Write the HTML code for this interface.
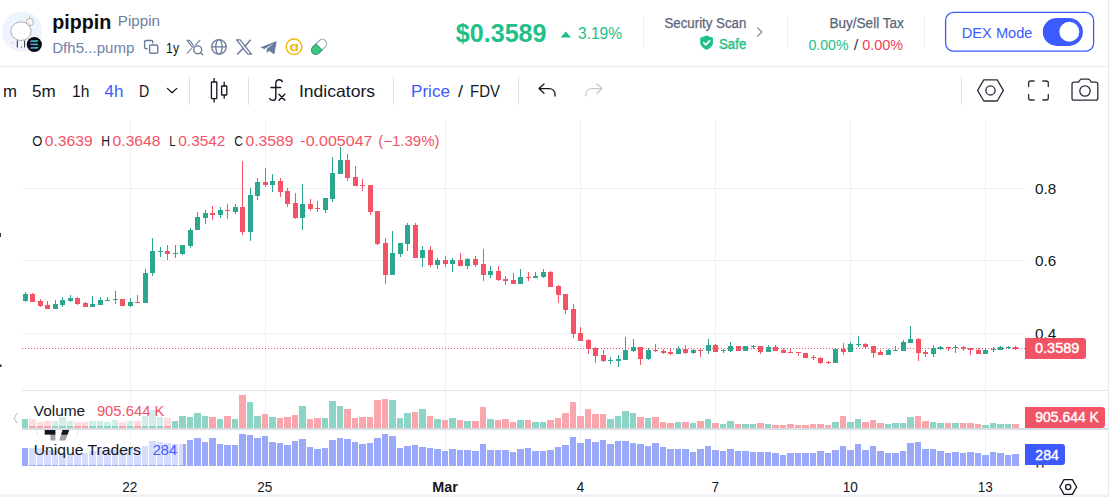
<!DOCTYPE html>
<html><head><meta charset="utf-8"><title>pippin</title>
<style>
html,body{margin:0;padding:0;background:#fff;}
body{width:1112px;height:497px;overflow:hidden;position:relative;font-family:"Liberation Sans",sans-serif;color:#131722;}
.t{position:absolute;white-space:nowrap;line-height:1;}
svg{position:absolute;left:0;top:0;font-family:"Liberation Sans",sans-serif;}
</style></head><body>
<svg width="1112" height="497" viewBox="0 0 1112 497">
<rect x="0" y="66" width="1108" height="1" fill="#E8EDF3"/>
<rect x="1108" y="0" width="1" height="497" fill="#E6EBF1"/>
<rect x="0" y="494.5" width="1108" height="2.5" fill="#EEF0F4"/>
<g shape-rendering="crispEdges">
<rect x="22" y="188" width="1003" height="1" fill="#F0F1F4"/>
<rect x="22" y="260" width="1003" height="1" fill="#F0F1F4"/>
<rect x="22" y="333" width="1003" height="1" fill="#F0F1F4"/>
<rect x="130" y="120" width="1" height="349" fill="#F0F1F4"/>
<rect x="265" y="120" width="1" height="349" fill="#F0F1F4"/>
<rect x="445" y="120" width="1" height="349" fill="#F0F1F4"/>
<rect x="580" y="120" width="1" height="349" fill="#F0F1F4"/>
<rect x="715" y="120" width="1" height="349" fill="#F0F1F4"/>
<rect x="850" y="120" width="1" height="349" fill="#F0F1F4"/>
<rect x="985" y="120" width="1" height="349" fill="#F0F1F4"/>
<rect x="22" y="390" width="1086" height="1" fill="#E0E3EB"/>
<rect x="22" y="428" width="1086" height="2" fill="#D9DCE2"/>
<line x1="22" y1="348.5" x2="1025" y2="348.5" stroke="#F25466" stroke-width="1" stroke-dasharray="1 2"/>
<rect x="25" y="292" width="1" height="10" fill="#2CA68F"/>
<rect x="23" y="294" width="5" height="7" fill="#2CA68F"/>
<rect x="32" y="293" width="1" height="9" fill="#F25466"/>
<rect x="30" y="294" width="5" height="8" fill="#F25466"/>
<rect x="40" y="299" width="1" height="8" fill="#F25466"/>
<rect x="38" y="301" width="5" height="5" fill="#F25466"/>
<rect x="47" y="301" width="1" height="8" fill="#F25466"/>
<rect x="45" y="305" width="5" height="4" fill="#F25466"/>
<rect x="55" y="300" width="1" height="9" fill="#2CA68F"/>
<rect x="53" y="304" width="5" height="5" fill="#2CA68F"/>
<rect x="62" y="297" width="1" height="10" fill="#2CA68F"/>
<rect x="60" y="300" width="5" height="5" fill="#2CA68F"/>
<rect x="70" y="295" width="1" height="7" fill="#2CA68F"/>
<rect x="68" y="298" width="5" height="3" fill="#2CA68F"/>
<rect x="77" y="297" width="1" height="8" fill="#F25466"/>
<rect x="75" y="298" width="5" height="6" fill="#F25466"/>
<rect x="85" y="302" width="1" height="5" fill="#F25466"/>
<rect x="83" y="303" width="5" height="4" fill="#F25466"/>
<rect x="92" y="296" width="1" height="11" fill="#2CA68F"/>
<rect x="90" y="304" width="5" height="3" fill="#2CA68F"/>
<rect x="100" y="297" width="1" height="8" fill="#2CA68F"/>
<rect x="98" y="300" width="5" height="5" fill="#2CA68F"/>
<rect x="107" y="297" width="1" height="4" fill="#2CA68F"/>
<rect x="105" y="300" width="5" height="1" fill="#2CA68F"/>
<rect x="115" y="291" width="1" height="13" fill="#2CA68F"/>
<rect x="113" y="299" width="5" height="1" fill="#2CA68F"/>
<rect x="122" y="299" width="1" height="7" fill="#F25466"/>
<rect x="120" y="299" width="5" height="7" fill="#F25466"/>
<rect x="130" y="298" width="1" height="9" fill="#2CA68F"/>
<rect x="128" y="302" width="5" height="4" fill="#2CA68F"/>
<rect x="137" y="295" width="1" height="8" fill="#F25466"/>
<rect x="135" y="302" width="5" height="1" fill="#F25466"/>
<rect x="145" y="269" width="1" height="34" fill="#2CA68F"/>
<rect x="143" y="273" width="5" height="30" fill="#2CA68F"/>
<rect x="152" y="238" width="1" height="38" fill="#2CA68F"/>
<rect x="150" y="251" width="5" height="22" fill="#2CA68F"/>
<rect x="160" y="247" width="1" height="10" fill="#2CA68F"/>
<rect x="158" y="251" width="5" height="1" fill="#2CA68F"/>
<rect x="167" y="245" width="1" height="15" fill="#F25466"/>
<rect x="165" y="251" width="5" height="3" fill="#F25466"/>
<rect x="175" y="245" width="1" height="13" fill="#2CA68F"/>
<rect x="173" y="253" width="5" height="1" fill="#2CA68F"/>
<rect x="182" y="245" width="1" height="10" fill="#2CA68F"/>
<rect x="180" y="245" width="5" height="9" fill="#2CA68F"/>
<rect x="190" y="228" width="1" height="20" fill="#2CA68F"/>
<rect x="188" y="230" width="5" height="16" fill="#2CA68F"/>
<rect x="197" y="212" width="1" height="18" fill="#2CA68F"/>
<rect x="195" y="217" width="5" height="13" fill="#2CA68F"/>
<rect x="205" y="210" width="1" height="14" fill="#2CA68F"/>
<rect x="203" y="213" width="5" height="5" fill="#2CA68F"/>
<rect x="212" y="206" width="1" height="14" fill="#F25466"/>
<rect x="210" y="213" width="5" height="2" fill="#F25466"/>
<rect x="220" y="207" width="1" height="11" fill="#2CA68F"/>
<rect x="218" y="210" width="5" height="5" fill="#2CA68F"/>
<rect x="227" y="204" width="1" height="15" fill="#F25466"/>
<rect x="225" y="210" width="5" height="1" fill="#F25466"/>
<rect x="235" y="204" width="1" height="10" fill="#2CA68F"/>
<rect x="233" y="207" width="5" height="5" fill="#2CA68F"/>
<rect x="242" y="161" width="1" height="74" fill="#F25466"/>
<rect x="240" y="207" width="5" height="25" fill="#F25466"/>
<rect x="250" y="188" width="1" height="53" fill="#2CA68F"/>
<rect x="248" y="195" width="5" height="37" fill="#2CA68F"/>
<rect x="257" y="178" width="1" height="22" fill="#2CA68F"/>
<rect x="255" y="182" width="5" height="14" fill="#2CA68F"/>
<rect x="265" y="168" width="1" height="19" fill="#F25466"/>
<rect x="263" y="182" width="5" height="3" fill="#F25466"/>
<rect x="272" y="174" width="1" height="18" fill="#2CA68F"/>
<rect x="270" y="181" width="5" height="4" fill="#2CA68F"/>
<rect x="280" y="178" width="1" height="19" fill="#F25466"/>
<rect x="278" y="181" width="5" height="11" fill="#F25466"/>
<rect x="287" y="188" width="1" height="19" fill="#F25466"/>
<rect x="285" y="191" width="5" height="13" fill="#F25466"/>
<rect x="295" y="193" width="1" height="26" fill="#F25466"/>
<rect x="293" y="203" width="5" height="15" fill="#F25466"/>
<rect x="302" y="184" width="1" height="46" fill="#2CA68F"/>
<rect x="300" y="204" width="5" height="14" fill="#2CA68F"/>
<rect x="310" y="199" width="1" height="12" fill="#F25466"/>
<rect x="308" y="204" width="5" height="5" fill="#F25466"/>
<rect x="317" y="201" width="1" height="11" fill="#F25466"/>
<rect x="315" y="208" width="5" height="1" fill="#F25466"/>
<rect x="325" y="198" width="1" height="15" fill="#2CA68F"/>
<rect x="323" y="198" width="5" height="12" fill="#2CA68F"/>
<rect x="332" y="157" width="1" height="45" fill="#2CA68F"/>
<rect x="330" y="173" width="5" height="26" fill="#2CA68F"/>
<rect x="340" y="147" width="1" height="27" fill="#2CA68F"/>
<rect x="338" y="160" width="5" height="14" fill="#2CA68F"/>
<rect x="347" y="154" width="1" height="27" fill="#F25466"/>
<rect x="345" y="160" width="5" height="18" fill="#F25466"/>
<rect x="355" y="166" width="1" height="20" fill="#F25466"/>
<rect x="353" y="177" width="5" height="9" fill="#F25466"/>
<rect x="362" y="179" width="1" height="12" fill="#F25466"/>
<rect x="360" y="185" width="5" height="1" fill="#F25466"/>
<rect x="370" y="185" width="1" height="30" fill="#F25466"/>
<rect x="368" y="185" width="5" height="27" fill="#F25466"/>
<rect x="377" y="211" width="1" height="34" fill="#F25466"/>
<rect x="375" y="211" width="5" height="33" fill="#F25466"/>
<rect x="385" y="238" width="1" height="46" fill="#F25466"/>
<rect x="383" y="243" width="5" height="32" fill="#F25466"/>
<rect x="392" y="231" width="1" height="44" fill="#2CA68F"/>
<rect x="390" y="253" width="5" height="22" fill="#2CA68F"/>
<rect x="400" y="243" width="1" height="14" fill="#2CA68F"/>
<rect x="398" y="243" width="5" height="11" fill="#2CA68F"/>
<rect x="407" y="223" width="1" height="28" fill="#2CA68F"/>
<rect x="405" y="225" width="5" height="19" fill="#2CA68F"/>
<rect x="415" y="223" width="1" height="35" fill="#F25466"/>
<rect x="413" y="225" width="5" height="33" fill="#F25466"/>
<rect x="422" y="246" width="1" height="21" fill="#2CA68F"/>
<rect x="420" y="250" width="5" height="8" fill="#2CA68F"/>
<rect x="430" y="246" width="1" height="21" fill="#F25466"/>
<rect x="428" y="250" width="5" height="15" fill="#F25466"/>
<rect x="437" y="258" width="1" height="11" fill="#2CA68F"/>
<rect x="435" y="260" width="5" height="5" fill="#2CA68F"/>
<rect x="445" y="256" width="1" height="11" fill="#F25466"/>
<rect x="443" y="260" width="5" height="4" fill="#F25466"/>
<rect x="452" y="258" width="1" height="14" fill="#2CA68F"/>
<rect x="450" y="260" width="5" height="4" fill="#2CA68F"/>
<rect x="460" y="253" width="1" height="13" fill="#F25466"/>
<rect x="458" y="260" width="5" height="6" fill="#F25466"/>
<rect x="467" y="258" width="1" height="11" fill="#2CA68F"/>
<rect x="465" y="259" width="5" height="7" fill="#2CA68F"/>
<rect x="475" y="256" width="1" height="11" fill="#F25466"/>
<rect x="473" y="259" width="5" height="6" fill="#F25466"/>
<rect x="483" y="249" width="1" height="32" fill="#F25466"/>
<rect x="481" y="264" width="5" height="11" fill="#F25466"/>
<rect x="490" y="266" width="1" height="12" fill="#2CA68F"/>
<rect x="488" y="271" width="5" height="4" fill="#2CA68F"/>
<rect x="498" y="266" width="1" height="15" fill="#F25466"/>
<rect x="496" y="271" width="5" height="9" fill="#F25466"/>
<rect x="505" y="276" width="1" height="9" fill="#F25466"/>
<rect x="503" y="279" width="5" height="2" fill="#F25466"/>
<rect x="513" y="273" width="1" height="11" fill="#F25466"/>
<rect x="511" y="280" width="5" height="4" fill="#F25466"/>
<rect x="520" y="269" width="1" height="15" fill="#2CA68F"/>
<rect x="518" y="277" width="5" height="7" fill="#2CA68F"/>
<rect x="528" y="272" width="1" height="9" fill="#F25466"/>
<rect x="526" y="277" width="5" height="1" fill="#F25466"/>
<rect x="535" y="272" width="1" height="6" fill="#2CA68F"/>
<rect x="533" y="276" width="5" height="2" fill="#2CA68F"/>
<rect x="543" y="269" width="1" height="9" fill="#2CA68F"/>
<rect x="541" y="272" width="5" height="5" fill="#2CA68F"/>
<rect x="550" y="271" width="1" height="16" fill="#F25466"/>
<rect x="548" y="272" width="5" height="15" fill="#F25466"/>
<rect x="558" y="285" width="1" height="18" fill="#F25466"/>
<rect x="556" y="286" width="5" height="9" fill="#F25466"/>
<rect x="565" y="294" width="1" height="20" fill="#F25466"/>
<rect x="563" y="294" width="5" height="16" fill="#F25466"/>
<rect x="573" y="304" width="1" height="34" fill="#F25466"/>
<rect x="571" y="309" width="5" height="25" fill="#F25466"/>
<rect x="580" y="327" width="1" height="14" fill="#F25466"/>
<rect x="578" y="333" width="5" height="8" fill="#F25466"/>
<rect x="588" y="339" width="1" height="15" fill="#F25466"/>
<rect x="586" y="340" width="5" height="9" fill="#F25466"/>
<rect x="595" y="347" width="1" height="16" fill="#F25466"/>
<rect x="593" y="348" width="5" height="8" fill="#F25466"/>
<rect x="603" y="350" width="1" height="12" fill="#F25466"/>
<rect x="601" y="355" width="5" height="6" fill="#F25466"/>
<rect x="610" y="357" width="1" height="7" fill="#2CA68F"/>
<rect x="608" y="360" width="5" height="1" fill="#2CA68F"/>
<rect x="618" y="355" width="1" height="12" fill="#2CA68F"/>
<rect x="616" y="359" width="5" height="2" fill="#2CA68F"/>
<rect x="625" y="337" width="1" height="23" fill="#2CA68F"/>
<rect x="623" y="350" width="5" height="10" fill="#2CA68F"/>
<rect x="633" y="339" width="1" height="13" fill="#2CA68F"/>
<rect x="631" y="347" width="5" height="4" fill="#2CA68F"/>
<rect x="640" y="347" width="1" height="18" fill="#F25466"/>
<rect x="638" y="347" width="5" height="12" fill="#F25466"/>
<rect x="648" y="348" width="1" height="12" fill="#2CA68F"/>
<rect x="646" y="350" width="5" height="9" fill="#2CA68F"/>
<rect x="655" y="344" width="1" height="8" fill="#F25466"/>
<rect x="653" y="350" width="5" height="1" fill="#F25466"/>
<rect x="663" y="349" width="1" height="5" fill="#F25466"/>
<rect x="661" y="351" width="5" height="2" fill="#F25466"/>
<rect x="670" y="348" width="1" height="7" fill="#F25466"/>
<rect x="668" y="352" width="5" height="2" fill="#F25466"/>
<rect x="678" y="346" width="1" height="8" fill="#2CA68F"/>
<rect x="676" y="349" width="5" height="5" fill="#2CA68F"/>
<rect x="685" y="345" width="1" height="9" fill="#F25466"/>
<rect x="683" y="349" width="5" height="4" fill="#F25466"/>
<rect x="693" y="349" width="1" height="5" fill="#2CA68F"/>
<rect x="691" y="350" width="5" height="3" fill="#2CA68F"/>
<rect x="700" y="348" width="1" height="9" fill="#F25466"/>
<rect x="698" y="350" width="5" height="1" fill="#F25466"/>
<rect x="708" y="339" width="1" height="15" fill="#2CA68F"/>
<rect x="706" y="345" width="5" height="6" fill="#2CA68F"/>
<rect x="715" y="344" width="1" height="8" fill="#F25466"/>
<rect x="713" y="345" width="5" height="7" fill="#F25466"/>
<rect x="723" y="349" width="1" height="4" fill="#2CA68F"/>
<rect x="721" y="350" width="5" height="1" fill="#2CA68F"/>
<rect x="730" y="342" width="1" height="10" fill="#2CA68F"/>
<rect x="728" y="346" width="5" height="5" fill="#2CA68F"/>
<rect x="738" y="346" width="1" height="5" fill="#F25466"/>
<rect x="736" y="346" width="5" height="5" fill="#F25466"/>
<rect x="745" y="346" width="1" height="5" fill="#2CA68F"/>
<rect x="743" y="346" width="5" height="5" fill="#2CA68F"/>
<rect x="753" y="345" width="1" height="4" fill="#2CA68F"/>
<rect x="751" y="346" width="5" height="1" fill="#2CA68F"/>
<rect x="760" y="346" width="1" height="8" fill="#F25466"/>
<rect x="758" y="346" width="5" height="6" fill="#F25466"/>
<rect x="768" y="345" width="1" height="7" fill="#2CA68F"/>
<rect x="766" y="347" width="5" height="5" fill="#2CA68F"/>
<rect x="775" y="345" width="1" height="6" fill="#F25466"/>
<rect x="773" y="347" width="5" height="4" fill="#F25466"/>
<rect x="783" y="348" width="1" height="5" fill="#F25466"/>
<rect x="781" y="350" width="5" height="3" fill="#F25466"/>
<rect x="790" y="348" width="1" height="5" fill="#F25466"/>
<rect x="788" y="352" width="5" height="1" fill="#F25466"/>
<rect x="798" y="352" width="1" height="4" fill="#F25466"/>
<rect x="796" y="352" width="5" height="1" fill="#F25466"/>
<rect x="805" y="353" width="1" height="5" fill="#F25466"/>
<rect x="803" y="353" width="5" height="5" fill="#F25466"/>
<rect x="813" y="355" width="1" height="5" fill="#F25466"/>
<rect x="811" y="357" width="5" height="1" fill="#F25466"/>
<rect x="820" y="357" width="1" height="7" fill="#F25466"/>
<rect x="818" y="358" width="5" height="5" fill="#F25466"/>
<rect x="828" y="361" width="1" height="3" fill="#F25466"/>
<rect x="826" y="362" width="5" height="1" fill="#F25466"/>
<rect x="835" y="349" width="1" height="14" fill="#2CA68F"/>
<rect x="833" y="349" width="5" height="14" fill="#2CA68F"/>
<rect x="843" y="343" width="1" height="12" fill="#F25466"/>
<rect x="841" y="349" width="5" height="3" fill="#F25466"/>
<rect x="850" y="342" width="1" height="10" fill="#2CA68F"/>
<rect x="848" y="344" width="5" height="8" fill="#2CA68F"/>
<rect x="858" y="336" width="1" height="11" fill="#2CA68F"/>
<rect x="856" y="344" width="5" height="1" fill="#2CA68F"/>
<rect x="865" y="343" width="1" height="6" fill="#F25466"/>
<rect x="863" y="344" width="5" height="3" fill="#F25466"/>
<rect x="873" y="346" width="1" height="12" fill="#F25466"/>
<rect x="871" y="346" width="5" height="7" fill="#F25466"/>
<rect x="880" y="350" width="1" height="5" fill="#F25466"/>
<rect x="878" y="352" width="5" height="3" fill="#F25466"/>
<rect x="888" y="349" width="1" height="6" fill="#2CA68F"/>
<rect x="886" y="350" width="5" height="5" fill="#2CA68F"/>
<rect x="895" y="346" width="1" height="5" fill="#2CA68F"/>
<rect x="893" y="350" width="5" height="1" fill="#2CA68F"/>
<rect x="903" y="340" width="1" height="11" fill="#2CA68F"/>
<rect x="901" y="342" width="5" height="9" fill="#2CA68F"/>
<rect x="910" y="326" width="1" height="17" fill="#2CA68F"/>
<rect x="908" y="339" width="5" height="4" fill="#2CA68F"/>
<rect x="918" y="338" width="1" height="23" fill="#F25466"/>
<rect x="916" y="339" width="5" height="14" fill="#F25466"/>
<rect x="925" y="350" width="1" height="7" fill="#F25466"/>
<rect x="923" y="352" width="5" height="2" fill="#F25466"/>
<rect x="933" y="345" width="1" height="12" fill="#2CA68F"/>
<rect x="931" y="348" width="5" height="6" fill="#2CA68F"/>
<rect x="940" y="346" width="1" height="4" fill="#2CA68F"/>
<rect x="938" y="347" width="5" height="2" fill="#2CA68F"/>
<rect x="948" y="347" width="1" height="4" fill="#F25466"/>
<rect x="946" y="347" width="5" height="1" fill="#F25466"/>
<rect x="955" y="345" width="1" height="8" fill="#2CA68F"/>
<rect x="953" y="347" width="5" height="1" fill="#2CA68F"/>
<rect x="963" y="346" width="1" height="5" fill="#F25466"/>
<rect x="961" y="347" width="5" height="2" fill="#F25466"/>
<rect x="970" y="348" width="1" height="7" fill="#F25466"/>
<rect x="968" y="348" width="5" height="2" fill="#F25466"/>
<rect x="978" y="348" width="1" height="6" fill="#F25466"/>
<rect x="976" y="350" width="5" height="4" fill="#F25466"/>
<rect x="985" y="349" width="1" height="5" fill="#2CA68F"/>
<rect x="983" y="350" width="5" height="4" fill="#2CA68F"/>
<rect x="993" y="347" width="1" height="5" fill="#2CA68F"/>
<rect x="991" y="349" width="5" height="1" fill="#2CA68F"/>
<rect x="1000" y="346" width="1" height="4" fill="#2CA68F"/>
<rect x="998" y="347" width="5" height="3" fill="#2CA68F"/>
<rect x="1008" y="346" width="1" height="3" fill="#2CA68F"/>
<rect x="1006" y="347" width="5" height="1" fill="#2CA68F"/>
<rect x="1015" y="346" width="1" height="4" fill="#F25466"/>
<rect x="1013" y="347" width="5" height="2" fill="#F25466"/>
<rect x="22" y="419" width="6" height="9" fill="#8DD3C6"/>
<rect x="29" y="419" width="7" height="9" fill="#FAA6AD"/>
<rect x="37" y="422" width="6" height="6" fill="#FAA6AD"/>
<rect x="44" y="421" width="7" height="7" fill="#FAA6AD"/>
<rect x="52" y="421" width="6" height="7" fill="#8DD3C6"/>
<rect x="59" y="417" width="7" height="11" fill="#8DD3C6"/>
<rect x="67" y="421" width="6" height="7" fill="#8DD3C6"/>
<rect x="74" y="422" width="7" height="6" fill="#FAA6AD"/>
<rect x="82" y="422" width="6" height="6" fill="#FAA6AD"/>
<rect x="89" y="421" width="7" height="7" fill="#8DD3C6"/>
<rect x="97" y="421" width="6" height="7" fill="#8DD3C6"/>
<rect x="104" y="422" width="7" height="6" fill="#8DD3C6"/>
<rect x="112" y="420" width="6" height="8" fill="#8DD3C6"/>
<rect x="119" y="422" width="7" height="6" fill="#FAA6AD"/>
<rect x="127" y="421" width="6" height="7" fill="#8DD3C6"/>
<rect x="134" y="421" width="7" height="7" fill="#FAA6AD"/>
<rect x="142" y="416" width="6" height="12" fill="#8DD3C6"/>
<rect x="149" y="410" width="7" height="18" fill="#8DD3C6"/>
<rect x="157" y="417" width="6" height="11" fill="#8DD3C6"/>
<rect x="164" y="418" width="7" height="10" fill="#FAA6AD"/>
<rect x="172" y="421" width="6" height="7" fill="#8DD3C6"/>
<rect x="179" y="416" width="7" height="12" fill="#8DD3C6"/>
<rect x="187" y="417" width="6" height="11" fill="#8DD3C6"/>
<rect x="194" y="413" width="7" height="15" fill="#8DD3C6"/>
<rect x="202" y="416" width="6" height="12" fill="#8DD3C6"/>
<rect x="209" y="417" width="7" height="11" fill="#FAA6AD"/>
<rect x="217" y="419" width="6" height="9" fill="#8DD3C6"/>
<rect x="224" y="416" width="7" height="12" fill="#FAA6AD"/>
<rect x="232" y="419" width="6" height="9" fill="#8DD3C6"/>
<rect x="239" y="395" width="7" height="33" fill="#FAA6AD"/>
<rect x="247" y="402" width="6" height="26" fill="#8DD3C6"/>
<rect x="254" y="416" width="7" height="12" fill="#8DD3C6"/>
<rect x="262" y="414" width="6" height="14" fill="#FAA6AD"/>
<rect x="269" y="417" width="7" height="11" fill="#8DD3C6"/>
<rect x="277" y="418" width="6" height="10" fill="#FAA6AD"/>
<rect x="284" y="417" width="7" height="11" fill="#FAA6AD"/>
<rect x="292" y="415" width="6" height="13" fill="#FAA6AD"/>
<rect x="299" y="406" width="7" height="22" fill="#8DD3C6"/>
<rect x="307" y="419" width="6" height="9" fill="#FAA6AD"/>
<rect x="314" y="418" width="7" height="10" fill="#FAA6AD"/>
<rect x="322" y="418" width="6" height="10" fill="#8DD3C6"/>
<rect x="329" y="401" width="7" height="27" fill="#8DD3C6"/>
<rect x="337" y="406" width="6" height="22" fill="#8DD3C6"/>
<rect x="344" y="409" width="7" height="19" fill="#FAA6AD"/>
<rect x="352" y="418" width="6" height="10" fill="#FAA6AD"/>
<rect x="359" y="417" width="7" height="11" fill="#FAA6AD"/>
<rect x="367" y="417" width="6" height="11" fill="#FAA6AD"/>
<rect x="374" y="400" width="7" height="28" fill="#FAA6AD"/>
<rect x="382" y="399" width="6" height="29" fill="#FAA6AD"/>
<rect x="389" y="400" width="7" height="28" fill="#8DD3C6"/>
<rect x="397" y="418" width="6" height="10" fill="#8DD3C6"/>
<rect x="404" y="413" width="7" height="15" fill="#8DD3C6"/>
<rect x="412" y="412" width="6" height="16" fill="#FAA6AD"/>
<rect x="419" y="409" width="7" height="19" fill="#8DD3C6"/>
<rect x="427" y="416" width="6" height="12" fill="#FAA6AD"/>
<rect x="434" y="419" width="7" height="9" fill="#8DD3C6"/>
<rect x="442" y="420" width="6" height="8" fill="#FAA6AD"/>
<rect x="449" y="418" width="7" height="10" fill="#8DD3C6"/>
<rect x="457" y="420" width="6" height="8" fill="#FAA6AD"/>
<rect x="464" y="421" width="7" height="7" fill="#8DD3C6"/>
<rect x="472" y="421" width="7" height="7" fill="#FAA6AD"/>
<rect x="480" y="407" width="6" height="21" fill="#FAA6AD"/>
<rect x="487" y="419" width="7" height="9" fill="#8DD3C6"/>
<rect x="495" y="420" width="6" height="8" fill="#FAA6AD"/>
<rect x="502" y="419" width="7" height="9" fill="#FAA6AD"/>
<rect x="510" y="422" width="6" height="6" fill="#FAA6AD"/>
<rect x="517" y="420" width="7" height="8" fill="#8DD3C6"/>
<rect x="525" y="420" width="6" height="8" fill="#FAA6AD"/>
<rect x="532" y="422" width="7" height="6" fill="#8DD3C6"/>
<rect x="540" y="422" width="6" height="6" fill="#8DD3C6"/>
<rect x="547" y="420" width="7" height="8" fill="#FAA6AD"/>
<rect x="555" y="418" width="6" height="10" fill="#FAA6AD"/>
<rect x="562" y="413" width="7" height="15" fill="#FAA6AD"/>
<rect x="570" y="402" width="6" height="26" fill="#FAA6AD"/>
<rect x="577" y="416" width="7" height="12" fill="#FAA6AD"/>
<rect x="585" y="409" width="6" height="19" fill="#FAA6AD"/>
<rect x="592" y="414" width="7" height="14" fill="#FAA6AD"/>
<rect x="600" y="414" width="6" height="14" fill="#FAA6AD"/>
<rect x="607" y="419" width="7" height="9" fill="#8DD3C6"/>
<rect x="615" y="416" width="6" height="12" fill="#8DD3C6"/>
<rect x="622" y="411" width="7" height="17" fill="#8DD3C6"/>
<rect x="630" y="413" width="6" height="15" fill="#8DD3C6"/>
<rect x="637" y="417" width="7" height="11" fill="#FAA6AD"/>
<rect x="645" y="418" width="6" height="10" fill="#8DD3C6"/>
<rect x="652" y="417" width="7" height="11" fill="#FAA6AD"/>
<rect x="660" y="422" width="6" height="6" fill="#FAA6AD"/>
<rect x="667" y="423" width="7" height="5" fill="#FAA6AD"/>
<rect x="675" y="422" width="6" height="6" fill="#8DD3C6"/>
<rect x="682" y="422" width="7" height="6" fill="#FAA6AD"/>
<rect x="690" y="423" width="6" height="5" fill="#8DD3C6"/>
<rect x="697" y="421" width="7" height="7" fill="#FAA6AD"/>
<rect x="705" y="419" width="6" height="9" fill="#8DD3C6"/>
<rect x="712" y="423" width="7" height="5" fill="#FAA6AD"/>
<rect x="720" y="424" width="6" height="4" fill="#8DD3C6"/>
<rect x="727" y="421" width="7" height="7" fill="#8DD3C6"/>
<rect x="735" y="424" width="6" height="4" fill="#FAA6AD"/>
<rect x="742" y="424" width="7" height="4" fill="#8DD3C6"/>
<rect x="750" y="424" width="6" height="4" fill="#8DD3C6"/>
<rect x="757" y="423" width="7" height="5" fill="#FAA6AD"/>
<rect x="765" y="424" width="6" height="4" fill="#8DD3C6"/>
<rect x="772" y="425" width="7" height="3" fill="#FAA6AD"/>
<rect x="780" y="425" width="6" height="3" fill="#FAA6AD"/>
<rect x="787" y="424" width="7" height="4" fill="#FAA6AD"/>
<rect x="795" y="425" width="6" height="3" fill="#FAA6AD"/>
<rect x="802" y="425" width="7" height="3" fill="#FAA6AD"/>
<rect x="810" y="424" width="6" height="4" fill="#FAA6AD"/>
<rect x="817" y="424" width="7" height="4" fill="#FAA6AD"/>
<rect x="825" y="425" width="6" height="3" fill="#FAA6AD"/>
<rect x="832" y="422" width="7" height="6" fill="#8DD3C6"/>
<rect x="840" y="416" width="6" height="12" fill="#FAA6AD"/>
<rect x="847" y="422" width="7" height="6" fill="#8DD3C6"/>
<rect x="855" y="419" width="6" height="9" fill="#8DD3C6"/>
<rect x="862" y="422" width="7" height="6" fill="#FAA6AD"/>
<rect x="870" y="420" width="6" height="8" fill="#FAA6AD"/>
<rect x="877" y="423" width="7" height="5" fill="#FAA6AD"/>
<rect x="885" y="424" width="6" height="4" fill="#8DD3C6"/>
<rect x="892" y="423" width="7" height="5" fill="#8DD3C6"/>
<rect x="900" y="423" width="6" height="5" fill="#8DD3C6"/>
<rect x="907" y="417" width="7" height="11" fill="#8DD3C6"/>
<rect x="915" y="416" width="6" height="12" fill="#FAA6AD"/>
<rect x="922" y="421" width="7" height="7" fill="#FAA6AD"/>
<rect x="930" y="422" width="6" height="6" fill="#8DD3C6"/>
<rect x="937" y="423" width="7" height="5" fill="#8DD3C6"/>
<rect x="945" y="423" width="6" height="5" fill="#FAA6AD"/>
<rect x="952" y="423" width="7" height="5" fill="#8DD3C6"/>
<rect x="960" y="423" width="6" height="5" fill="#FAA6AD"/>
<rect x="967" y="423" width="7" height="5" fill="#FAA6AD"/>
<rect x="975" y="424" width="6" height="4" fill="#FAA6AD"/>
<rect x="982" y="425" width="7" height="3" fill="#8DD3C6"/>
<rect x="990" y="423" width="6" height="5" fill="#8DD3C6"/>
<rect x="997" y="424" width="7" height="4" fill="#8DD3C6"/>
<rect x="1005" y="424" width="6" height="4" fill="#8DD3C6"/>
<rect x="1012" y="424" width="7" height="4" fill="#FAA6AD"/>
<rect x="22" y="448" width="6" height="18" fill="#9AA9FA"/>
<rect x="29" y="448" width="7" height="18" fill="#9AA9FA"/>
<rect x="37" y="448" width="6" height="18" fill="#9AA9FA"/>
<rect x="44" y="450" width="7" height="16" fill="#9AA9FA"/>
<rect x="52" y="450" width="6" height="16" fill="#9AA9FA"/>
<rect x="59" y="453" width="7" height="13" fill="#9AA9FA"/>
<rect x="67" y="454" width="6" height="12" fill="#9AA9FA"/>
<rect x="74" y="453" width="7" height="13" fill="#9AA9FA"/>
<rect x="82" y="453" width="6" height="13" fill="#9AA9FA"/>
<rect x="89" y="451" width="7" height="15" fill="#9AA9FA"/>
<rect x="97" y="450" width="6" height="16" fill="#9AA9FA"/>
<rect x="104" y="450" width="7" height="16" fill="#9AA9FA"/>
<rect x="112" y="450" width="6" height="16" fill="#9AA9FA"/>
<rect x="119" y="450" width="7" height="16" fill="#9AA9FA"/>
<rect x="127" y="448" width="6" height="18" fill="#9AA9FA"/>
<rect x="134" y="448" width="7" height="18" fill="#9AA9FA"/>
<rect x="142" y="446" width="6" height="20" fill="#9AA9FA"/>
<rect x="149" y="441" width="7" height="25" fill="#9AA9FA"/>
<rect x="157" y="442" width="6" height="24" fill="#9AA9FA"/>
<rect x="164" y="443" width="7" height="23" fill="#9AA9FA"/>
<rect x="172" y="444" width="6" height="22" fill="#9AA9FA"/>
<rect x="179" y="444" width="7" height="22" fill="#9AA9FA"/>
<rect x="187" y="440" width="6" height="26" fill="#9AA9FA"/>
<rect x="194" y="438" width="7" height="28" fill="#9AA9FA"/>
<rect x="202" y="442" width="6" height="24" fill="#9AA9FA"/>
<rect x="209" y="438" width="7" height="28" fill="#9AA9FA"/>
<rect x="217" y="444" width="6" height="22" fill="#9AA9FA"/>
<rect x="224" y="445" width="7" height="21" fill="#9AA9FA"/>
<rect x="232" y="445" width="6" height="21" fill="#9AA9FA"/>
<rect x="239" y="434" width="7" height="32" fill="#9AA9FA"/>
<rect x="247" y="435" width="6" height="31" fill="#9AA9FA"/>
<rect x="254" y="438" width="7" height="28" fill="#9AA9FA"/>
<rect x="262" y="436" width="6" height="30" fill="#9AA9FA"/>
<rect x="269" y="442" width="7" height="24" fill="#9AA9FA"/>
<rect x="277" y="443" width="6" height="23" fill="#9AA9FA"/>
<rect x="284" y="445" width="7" height="21" fill="#9AA9FA"/>
<rect x="292" y="441" width="6" height="25" fill="#9AA9FA"/>
<rect x="299" y="439" width="7" height="27" fill="#9AA9FA"/>
<rect x="307" y="447" width="6" height="19" fill="#9AA9FA"/>
<rect x="314" y="449" width="7" height="17" fill="#9AA9FA"/>
<rect x="322" y="448" width="6" height="18" fill="#9AA9FA"/>
<rect x="329" y="440" width="7" height="26" fill="#9AA9FA"/>
<rect x="337" y="438" width="6" height="28" fill="#9AA9FA"/>
<rect x="344" y="439" width="7" height="27" fill="#9AA9FA"/>
<rect x="352" y="442" width="6" height="24" fill="#9AA9FA"/>
<rect x="359" y="444" width="7" height="22" fill="#9AA9FA"/>
<rect x="367" y="443" width="6" height="23" fill="#9AA9FA"/>
<rect x="374" y="438" width="7" height="28" fill="#9AA9FA"/>
<rect x="382" y="434" width="6" height="32" fill="#9AA9FA"/>
<rect x="389" y="436" width="7" height="30" fill="#9AA9FA"/>
<rect x="397" y="448" width="6" height="18" fill="#9AA9FA"/>
<rect x="404" y="446" width="7" height="20" fill="#9AA9FA"/>
<rect x="412" y="445" width="6" height="21" fill="#9AA9FA"/>
<rect x="419" y="447" width="7" height="19" fill="#9AA9FA"/>
<rect x="427" y="448" width="6" height="18" fill="#9AA9FA"/>
<rect x="434" y="449" width="7" height="17" fill="#9AA9FA"/>
<rect x="442" y="451" width="6" height="15" fill="#9AA9FA"/>
<rect x="449" y="449" width="7" height="17" fill="#9AA9FA"/>
<rect x="457" y="450" width="6" height="16" fill="#9AA9FA"/>
<rect x="464" y="450" width="7" height="16" fill="#9AA9FA"/>
<rect x="472" y="451" width="7" height="15" fill="#9AA9FA"/>
<rect x="480" y="444" width="6" height="22" fill="#9AA9FA"/>
<rect x="487" y="450" width="7" height="16" fill="#9AA9FA"/>
<rect x="495" y="450" width="6" height="16" fill="#9AA9FA"/>
<rect x="502" y="450" width="7" height="16" fill="#9AA9FA"/>
<rect x="510" y="452" width="6" height="14" fill="#9AA9FA"/>
<rect x="517" y="449" width="7" height="17" fill="#9AA9FA"/>
<rect x="525" y="448" width="6" height="18" fill="#9AA9FA"/>
<rect x="532" y="451" width="7" height="15" fill="#9AA9FA"/>
<rect x="540" y="451" width="6" height="15" fill="#9AA9FA"/>
<rect x="547" y="450" width="7" height="16" fill="#9AA9FA"/>
<rect x="555" y="447" width="6" height="19" fill="#9AA9FA"/>
<rect x="562" y="445" width="7" height="21" fill="#9AA9FA"/>
<rect x="570" y="437" width="6" height="29" fill="#9AA9FA"/>
<rect x="577" y="443" width="7" height="23" fill="#9AA9FA"/>
<rect x="585" y="439" width="6" height="27" fill="#9AA9FA"/>
<rect x="592" y="442" width="7" height="24" fill="#9AA9FA"/>
<rect x="600" y="440" width="6" height="26" fill="#9AA9FA"/>
<rect x="607" y="444" width="7" height="22" fill="#9AA9FA"/>
<rect x="615" y="441" width="6" height="25" fill="#9AA9FA"/>
<rect x="622" y="441" width="7" height="25" fill="#9AA9FA"/>
<rect x="630" y="443" width="6" height="23" fill="#9AA9FA"/>
<rect x="637" y="444" width="7" height="22" fill="#9AA9FA"/>
<rect x="645" y="446" width="6" height="20" fill="#9AA9FA"/>
<rect x="652" y="443" width="7" height="23" fill="#9AA9FA"/>
<rect x="660" y="447" width="6" height="19" fill="#9AA9FA"/>
<rect x="667" y="449" width="7" height="17" fill="#9AA9FA"/>
<rect x="675" y="449" width="6" height="17" fill="#9AA9FA"/>
<rect x="682" y="449" width="7" height="17" fill="#9AA9FA"/>
<rect x="690" y="452" width="6" height="14" fill="#9AA9FA"/>
<rect x="697" y="449" width="7" height="17" fill="#9AA9FA"/>
<rect x="705" y="446" width="6" height="20" fill="#9AA9FA"/>
<rect x="712" y="450" width="7" height="16" fill="#9AA9FA"/>
<rect x="720" y="451" width="6" height="15" fill="#9AA9FA"/>
<rect x="727" y="449" width="7" height="17" fill="#9AA9FA"/>
<rect x="735" y="451" width="6" height="15" fill="#9AA9FA"/>
<rect x="742" y="451" width="7" height="15" fill="#9AA9FA"/>
<rect x="750" y="452" width="6" height="14" fill="#9AA9FA"/>
<rect x="757" y="452" width="7" height="14" fill="#9AA9FA"/>
<rect x="765" y="452" width="6" height="14" fill="#9AA9FA"/>
<rect x="772" y="453" width="7" height="13" fill="#9AA9FA"/>
<rect x="780" y="455" width="6" height="11" fill="#9AA9FA"/>
<rect x="787" y="453" width="7" height="13" fill="#9AA9FA"/>
<rect x="795" y="453" width="6" height="13" fill="#9AA9FA"/>
<rect x="802" y="453" width="7" height="13" fill="#9AA9FA"/>
<rect x="810" y="453" width="6" height="13" fill="#9AA9FA"/>
<rect x="817" y="451" width="7" height="15" fill="#9AA9FA"/>
<rect x="825" y="453" width="6" height="13" fill="#9AA9FA"/>
<rect x="832" y="450" width="7" height="16" fill="#9AA9FA"/>
<rect x="840" y="446" width="6" height="20" fill="#9AA9FA"/>
<rect x="847" y="450" width="7" height="16" fill="#9AA9FA"/>
<rect x="855" y="444" width="6" height="22" fill="#9AA9FA"/>
<rect x="862" y="450" width="7" height="16" fill="#9AA9FA"/>
<rect x="870" y="446" width="6" height="20" fill="#9AA9FA"/>
<rect x="877" y="451" width="7" height="15" fill="#9AA9FA"/>
<rect x="885" y="453" width="6" height="13" fill="#9AA9FA"/>
<rect x="892" y="453" width="7" height="13" fill="#9AA9FA"/>
<rect x="900" y="451" width="6" height="15" fill="#9AA9FA"/>
<rect x="907" y="443" width="7" height="23" fill="#9AA9FA"/>
<rect x="915" y="442" width="6" height="24" fill="#9AA9FA"/>
<rect x="922" y="449" width="7" height="17" fill="#9AA9FA"/>
<rect x="930" y="449" width="6" height="17" fill="#9AA9FA"/>
<rect x="937" y="451" width="7" height="15" fill="#9AA9FA"/>
<rect x="945" y="453" width="6" height="13" fill="#9AA9FA"/>
<rect x="952" y="452" width="7" height="14" fill="#9AA9FA"/>
<rect x="960" y="453" width="6" height="13" fill="#9AA9FA"/>
<rect x="967" y="452" width="7" height="14" fill="#9AA9FA"/>
<rect x="975" y="453" width="6" height="13" fill="#9AA9FA"/>
<rect x="982" y="455" width="7" height="11" fill="#9AA9FA"/>
<rect x="990" y="452" width="6" height="14" fill="#9AA9FA"/>
<rect x="997" y="453" width="7" height="13" fill="#9AA9FA"/>
<rect x="1005" y="455" width="6" height="11" fill="#9AA9FA"/>
<rect x="1012" y="454" width="7" height="12" fill="#9AA9FA"/>
</g>
<clipPath id="cl"><rect x="22" y="430" width="1003" height="36"/></clipPath>
<g clip-path="url(#cl)"><circle cx="57.6" cy="428" r="21" fill="none" stroke="#E3E6EB" stroke-width="1"/><path d="M44.7 422h10.7v18.4h-5v-5.7h-5.7z" fill="#131722"/><path d="M66.6 417h7.3l-8.4 23.4h-6.3z" fill="#131722"/></g>
<text x="1035" y="193.5" font-size="14.5" fill="#131722" textLength="21.3" lengthAdjust="spacingAndGlyphs">0.8</text>
<text x="1035" y="265.5" font-size="14.5" fill="#131722" textLength="21.3" lengthAdjust="spacingAndGlyphs">0.6</text>
<text x="1035" y="338.5" font-size="14.5" fill="#131722" textLength="21.3" lengthAdjust="spacingAndGlyphs">0.4</text>
<path d="M1025 338h58a3 3 0 0 1 3 3v15a3 3 0 0 1-3 3h-58z" fill="#F25466"/>
<text x="1035" y="352.9" font-size="14.5" fill="#fff" textLength="44.4" lengthAdjust="spacingAndGlyphs" stroke="#fff" stroke-width="0.4">0.3589</text>
<path d="M1025 407h77a3 3 0 0 1 3 3v15a3 3 0 0 1-3 3h-77z" fill="#F25466"/>
<text x="1035.3" y="422.2" font-size="14.5" fill="#fff" textLength="63.5" lengthAdjust="spacingAndGlyphs" stroke="#fff" stroke-width="0.4">905.644 K</text>
<clipPath id="cz"><rect x="1030" y="460" width="30" height="7.5"/></clipPath>
<text x="1036" y="471" font-size="14.5" fill="#131722" clip-path="url(#cz)">0</text>
<path d="M1025 444h37a3 3 0 0 1 3 3v15a3 3 0 0 1-3 3h-37z" fill="#3D5AFE"/>
<text x="1035.3" y="459.5" font-size="14.5" fill="#fff" textLength="23.5" lengthAdjust="spacingAndGlyphs" stroke="#fff" stroke-width="0.4">284</text>
<text x="122.25000000000001" y="492" font-size="15.2" fill="#131722" textLength="15.1" lengthAdjust="spacingAndGlyphs">22</text>
<text x="257.25" y="492" font-size="15.2" fill="#131722" textLength="15.1" lengthAdjust="spacingAndGlyphs">25</text>
<text x="432.3" y="492" font-size="15.2" fill="#131722" font-weight="bold" textLength="25.6" lengthAdjust="spacingAndGlyphs">Mar</text>
<text x="576.4" y="492" font-size="15.2" fill="#131722" textLength="7.8" lengthAdjust="spacingAndGlyphs">4</text>
<text x="711.5" y="492" font-size="15.2" fill="#131722" textLength="7.6" lengthAdjust="spacingAndGlyphs">7</text>
<text x="842.75" y="492" font-size="15.2" fill="#131722" textLength="15.1" lengthAdjust="spacingAndGlyphs">10</text>
<text x="977.75" y="492" font-size="15.2" fill="#131722" textLength="15.1" lengthAdjust="spacingAndGlyphs">13</text>
<text x="32.2" y="146.4" font-size="14.4" fill="#131722" textLength="10.1" lengthAdjust="spacingAndGlyphs">O</text>
<text x="44.8" y="146.4" font-size="14.4" fill="#F25466" textLength="47.9" lengthAdjust="spacingAndGlyphs">0.3639</text>
<text x="101.2" y="146.4" font-size="14.4" fill="#131722" textLength="8.8" lengthAdjust="spacingAndGlyphs">H</text>
<text x="112.6" y="146.4" font-size="14.4" fill="#F25466" textLength="47.8" lengthAdjust="spacingAndGlyphs">0.3648</text>
<text x="169.2" y="146.4" font-size="14.4" fill="#131722" textLength="6.3" lengthAdjust="spacingAndGlyphs">L</text>
<text x="178.3" y="146.4" font-size="14.4" fill="#F25466" textLength="47.1" lengthAdjust="spacingAndGlyphs">0.3542</text>
<text x="234.2" y="146.4" font-size="14.4" fill="#131722" textLength="8.8" lengthAdjust="spacingAndGlyphs">C</text>
<text x="245.5" y="146.4" font-size="14.4" fill="#F25466" textLength="47.9" lengthAdjust="spacingAndGlyphs">0.3589</text>
<text x="300.3" y="146.4" font-size="14.4" fill="#F25466" textLength="72.2" lengthAdjust="spacingAndGlyphs">-0.005047</text>
<text x="378.2" y="146.4" font-size="14.4" fill="#F25466" textLength="61.3" lengthAdjust="spacingAndGlyphs">(−1.39%)</text>
<rect x="28" y="397" width="143" height="29" fill="#fff" fill-opacity="0.6"/>
<text x="33.8" y="416.4" font-size="14.4" fill="#131722" textLength="51.3" lengthAdjust="spacingAndGlyphs">Volume</text>
<text x="96.9" y="416.4" font-size="14.4" fill="#F25466" textLength="67.5" lengthAdjust="spacingAndGlyphs">905.644 K</text>
<rect x="28" y="434.7" width="155" height="30.3" fill="#fff" fill-opacity="0.6"/>
<text x="33.8" y="455.2" font-size="14.4" fill="#131722" textLength="107.1" lengthAdjust="spacingAndGlyphs">Unique Traders</text>
<text x="152.7" y="455.2" font-size="14.4" fill="#3D5AFE" textLength="24.3" lengthAdjust="spacingAndGlyphs">284</text>
<rect x="0" y="233" width="1" height="4" fill="#3a3d47"/><rect x="0" y="364.5" width="1.5" height="2.5" fill="#2a2d37"/>
<!-- vertical line right -->
<g id="hdr">
<!-- avatar -->
<circle cx="22" cy="31.5" r="20" fill="#EDF4FD"/>
<g fill="#fff" stroke="#1d1d1d" stroke-opacity="0.75" stroke-width="0.45">
<path d="M17.3 40.4v7.100M24.600 40.600v6.800" fill="none" stroke-width="1" stroke-opacity="0.9"/>
<ellipse cx="21" cy="31.200" rx="10.100" ry="9.300"/>
<circle cx="29.900" cy="22" r="3.500"/>
</g>
<circle cx="21.400" cy="47" r="0.500" fill="#222"/>
<path d="M28.700 18.800l0.800-3.400 1 3.200z" fill="#F5C518"/>
<circle cx="28.500" cy="23.800" r="1.300" fill="#F9C9D4"/>
<path d="M12.200 41.200v2.800" stroke="#F7A8B8" stroke-width="0.800"/>
<path d="M16 32h2M20 33.500h2" stroke="#ddd" stroke-width="0.500"/>
<circle cx="34.3" cy="44.5" r="7.6" fill="#0B0B0F"/>
<defs><linearGradient id="sol" x1="0" y1="0" x2="1" y2="0"><stop offset="0" stop-color="#9945FF"/><stop offset="1" stop-color="#14F195"/></linearGradient>
<linearGradient id="sol2" x1="0" y1="0" x2="1" y2="0"><stop offset="0" stop-color="#5B8DEF"/><stop offset="1" stop-color="#19E3B1"/></linearGradient></defs>
<path d="M31 40.2h7.6l-1.4 1.7h-7.6z" fill="url(#sol2)"/>
<path d="M29.6 43.6h7.6l1.4 1.7h-7.6z" fill="url(#sol)"/>
<path d="M31 47h7.6l-1.4 1.7h-7.6z" fill="url(#sol)"/>
</g>

<text x="52.2" y="29" font-size="20" fill="#0B0E11" font-weight="bold" textLength="59" lengthAdjust="spacingAndGlyphs">pippin</text>
<text x="117.8" y="26" font-size="14.5" fill="#6F7E9E" textLength="42.2" lengthAdjust="spacingAndGlyphs">Pippin</text>
<text x="52.2" y="52.5" font-size="14.3" fill="#6F82A8" textLength="82.3" lengthAdjust="spacingAndGlyphs">Dfh5...pump</text>
<g fill="none" stroke="#6B7B9B" stroke-width="1.4" stroke-linejoin="round" stroke-linecap="round"><path d="M147 48.700h-1a1.400 1.400 0 0 1-1.400-1.400v-5.400a1.400 1.400 0 0 1 1.400-1.400h5.400a1.400 1.400 0 0 1 1.400 1.400v1"/><rect x="149.600" y="45" width="8.200" height="8.300" rx="1.400"/></g>
<text x="166.1" y="52.5" font-size="14.5" fill="#0B0E11" textLength="12.9" lengthAdjust="spacingAndGlyphs">1y</text>
<g fill="none" stroke="#6B7B9B" stroke-width="1.100" stroke-linecap="round" stroke-linejoin="round"><path d="M187.200 40.300h2.400l5 6.800h-2.400zM199.900 40.300l-4.400 4.800M191.300 48.700l-4.200 4.800" /><circle cx="197.700" cy="49.800" r="4.900" fill="#fff" stroke="none"/><circle cx="197.700" cy="49.800" r="3.950" stroke-width="1.400"/><path d="M200.700 52.800l2 1.900" stroke-width="1.500"/></g>
<g fill="none" stroke="#6B7B9B" stroke-width="1.3"><circle cx="218.950" cy="46.850" r="7.250"/><ellipse cx="218.950" cy="46.850" rx="3.200" ry="7.250"/><path d="M211.700 46.850h14.500"/></g>
<g fill="none" stroke="#6B7B9B" stroke-width="1.3" stroke-linejoin="round"><path d="M236.6 39.8h3.6l11.2 14.4h-3.6z"/><path d="M250.6 39.8l-6 6.9M242.8 48.5l-5.6 5.9" stroke-width="1.5"/></g>
<path d="M260.2 47.6l16.5-6.5-2.4 13.3-5.2-3.7-2.4 2.5 0.1-4.3 7-5.6-9.2 5.7z" fill="#6B7B9B"/>
<circle cx="294" cy="46.8" r="7.800" fill="none" stroke="#F0B90B" stroke-width="1.400"/>
<text x="289.4" y="50.6" font-size="13.5" fill="#F0B90B" font-weight="bold" textLength="9.4" lengthAdjust="spacingAndGlyphs">ɑ</text>
<g transform="rotate(-45 319.100 46.900)"><rect x="310.100" y="42.600" width="18" height="8.600" rx="4.300" fill="#fff" stroke="#8A9BB0" stroke-width="1"/><path d="M319.100 42.600h-4.700a4.300 4.300 0 0 0 0 8.600h4.700z" fill="#3EC581" stroke="#2E9E68" stroke-width="1"/></g>
<text x="455.8" y="42" font-size="25" fill="#20C088" font-weight="bold" textLength="90.7" lengthAdjust="spacingAndGlyphs">$0.3589</text>
<path d="M560.6 37.6l5.2-6.2 5.2 6.2z" fill="#20C088"/>
<text x="578" y="39" font-size="16.8" fill="#20C088" textLength="44" lengthAdjust="spacingAndGlyphs">3.19%</text>
<rect x="643" y="17" width="1" height="30" fill="#EBEDF1"/>
<rect x="787" y="17" width="1" height="30" fill="#EBEDF1"/>
<rect x="924" y="17" width="1" height="30" fill="#EBEDF1"/>
<text x="664.5" y="27.7" font-size="14" fill="#5B6579" textLength="81.8" lengthAdjust="spacingAndGlyphs" stroke="#5B6579" stroke-width="0.25">Security Scan</text>
<path d="M706.600 35.400l6.400 2.300v4.400c0 3.900-2.700 6.300-6.400 7.700-3.700-1.400-6.400-3.800-6.400-7.700v-4.400z" fill="#20C088"/><path d="M703.700 42.800l2.100 2.100 3.800-4" fill="none" stroke="#fff" stroke-width="1.600" stroke-linecap="round" stroke-linejoin="round"/>
<text x="719" y="48.8" font-size="15.4" fill="#20C088" textLength="27.3" lengthAdjust="spacingAndGlyphs" stroke="#20C088" stroke-width="0.4">Safe</text>
<path d="M757.6 27.8l4.2 4.2-4.2 4.2" fill="none" stroke="#7A8699" stroke-width="1.2" stroke-linecap="round" stroke-linejoin="round"/>
<text x="829.4" y="27.7" font-size="14" fill="#5B6579" textLength="74.4" lengthAdjust="spacingAndGlyphs" stroke="#5B6579" stroke-width="0.25">Buy/Sell Tax</text>
<text x="808.5" y="50.2" font-size="15" fill="#20C088" textLength="40" lengthAdjust="spacingAndGlyphs">0.00%</text>
<text x="853.7" y="50.2" font-size="15" fill="#3B4252" textLength="4.6" lengthAdjust="spacingAndGlyphs">/</text>
<text x="862.3" y="50.2" font-size="15" fill="#F2415A" textLength="40.9" lengthAdjust="spacingAndGlyphs">0.00%</text>
<rect x="945.6" y="12.4" width="148" height="38.8" rx="8" fill="#fff" stroke="#3D5AFE" stroke-width="1.3"/>
<text x="961.8" y="37.7" font-size="15" fill="#3D5AFE" textLength="70.7" lengthAdjust="spacingAndGlyphs">DEX Mode</text>
<rect x="1042.8" y="17.9" width="40.1" height="28" rx="14" fill="#3D5AFE"/>
<circle cx="1069.3" cy="31.8" r="10" fill="#fff"/>
<text x="3" y="97.3" font-size="16.5" fill="#131722" textLength="14" lengthAdjust="spacingAndGlyphs">m</text>
<text x="32" y="97.3" font-size="16.5" fill="#131722" textLength="23.7" lengthAdjust="spacingAndGlyphs">5m</text>
<text x="72" y="97.3" font-size="16.5" fill="#131722" textLength="17.4" lengthAdjust="spacingAndGlyphs">1h</text>
<text x="104.5" y="97.3" font-size="16.5" fill="#3D5AFE" textLength="18.9" lengthAdjust="spacingAndGlyphs">4h</text>
<text x="139" y="97.3" font-size="16.5" fill="#131722" textLength="10.2" lengthAdjust="spacingAndGlyphs">D</text>
<path d="M167.4 88.4l4.7 4.4 4.7-4.4" fill="none" stroke="#131722" stroke-width="1.3" stroke-linecap="round" stroke-linejoin="round"/>
<rect x="189" y="77" width="1" height="28" fill="#DDE0E6"/>
<rect x="248" y="77" width="1" height="28" fill="#DDE0E6"/>
<rect x="393" y="77" width="1" height="28" fill="#DDE0E6"/>
<rect x="518" y="77" width="1" height="28" fill="#DDE0E6"/>
<rect x="961" y="77" width="1" height="28" fill="#DDE0E6"/>
<g fill="none" stroke="#131722" stroke-width="1.3"><rect x="211.4" y="82" width="5.4" height="16.6" rx="0.6"/><path d="M214.1 78v4M214.1 98.6v4"/><rect x="221.6" y="86" width="5.2" height="9" rx="0.6"/><path d="M224.2 81.8v4.2M224.2 95v3.8"/></g>
<g fill="none" stroke="#131722" stroke-width="1.4" stroke-linecap="round"><path d="M282.4 81.6c-0.6-1.2-1.8-1.9-3.2-1.9-2.2 0-3.4 1.5-3.4 3.9v13.6c0 2-1.200 3.2-3 3.200-1.300 0-2.400-0.600-3.200-1.800"/><path d="M271 87.5h9.800"/><path d="M279 94.200l5.800 6M284.800 94.200l-5.800 6"/></g>
<text x="299" y="97.3" font-size="16.5" fill="#131722" textLength="76" lengthAdjust="spacingAndGlyphs">Indicators</text>
<text x="411" y="97.3" font-size="16.5" fill="#3D5AFE" textLength="39" lengthAdjust="spacingAndGlyphs">Price</text>
<text x="458" y="97.3" font-size="16.5" fill="#131722" textLength="5" lengthAdjust="spacingAndGlyphs">/</text>
<text x="470" y="97.3" font-size="16.5" fill="#131722" textLength="30" lengthAdjust="spacingAndGlyphs">FDV</text>
<g fill="none" stroke-width="1.3" stroke-linecap="round" stroke-linejoin="round"><path d="M544 84l-5 4.600 5 4.600M539.400 88.600h9.600c3.600 0 6 2.400 6 6v1.400" stroke="#131722"/><path d="M597 84l5 4.600-5 4.600M601.600 88.600h-9.600c-3.600 0-6 2.400-6 6v1.400" stroke="#C5C9D3"/></g>
<g fill="none" stroke="#2A2E39" stroke-width="1.3" stroke-linejoin="round" stroke-linecap="round"><path d="M977.600 90.400l6.200-10.600h13.400l6.200 10.600-6.200 10.600h-13.400z"/><circle cx="990.500" cy="90.400" r="4.600"/><path d="M1028.600 86.500v-3.500a2 2 0 0 1 2-2h3.500M1042.800 81h3.500a2 2 0 0 1 2 2v3.500M1048.300 94.500v3.500a2 2 0 0 1-2 2h-3.500M1034.100 100h-3.500a2 2 0 0 1-2-2v-3.500"/><path d="M1074 82.200h4.600l1.400-2.200a1.600 1.600 0 0 1 1.400-0.800h7a1.600 1.600 0 0 1 1.400 0.800l1.400 2.200h4.600a2 2 0 0 1 2 2v14a2 2 0 0 1-2 2h-21.800a2 2 0 0 1-2-2v-14a2 2 0 0 1 2-2z"/><circle cx="1085" cy="91" r="5.200"/></g>
<g fill="none" stroke="#131722" stroke-width="1.3" stroke-linejoin="round"><path d="M1059.800 487l4.200-7.400h8.400l4.200 7.400-4.200 7.400h-8.400z"/><circle cx="1068.200" cy="487" r="2.600"/></g>
<path d="M16.800 413.500l-2.600 4.600 2.600 4.600" fill="none" stroke="#B2B5BE" stroke-width="1" stroke-linecap="round" stroke-linejoin="round"/>
</svg>
</body></html>
